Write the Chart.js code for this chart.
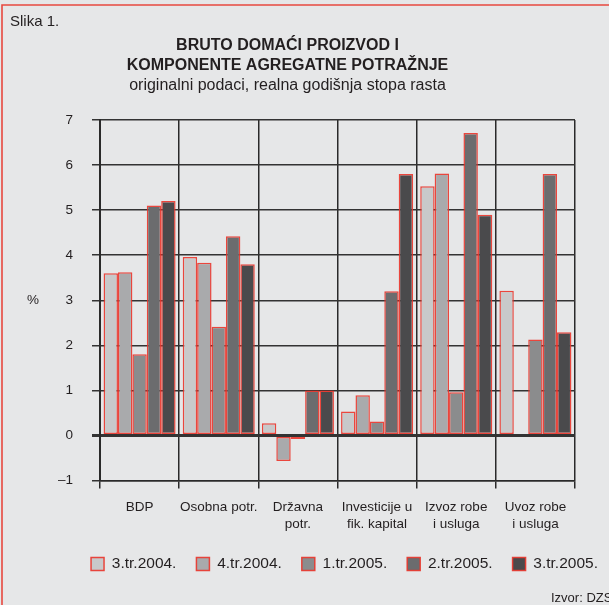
<!DOCTYPE html>
<html>
<head>
<meta charset="utf-8">
<script src="https://cdn.jsdelivr.net/npm/chart.js@4"></script>
<style>
  html, body { margin: 0; padding: 0; background: #e6e7e8; }
  #wrap { position: relative; width: 609px; height: 605px; overflow: hidden; }
  canvas { position: absolute; left: 0; top: 0; }
  .note { position: absolute; font-family: 'Liberation Sans', Arial, sans-serif; color: #231f20; white-space: nowrap; }
</style>
</head>
<body>
<div id="wrap">
  <canvas id="c" width="609" height="605"></canvas>
  <div class="note" style="left:10px; top:12px; font-size:15px; line-height:18px;">Slika 1.</div>
  <div class="note" style="left:551px; top:590px; font-size:13px; line-height:16px;">Izvor: DZS</div>
</div>
<script>
const categories = [
  'BDP',
  'Osobna potr.',
  ['Državna', 'potr.'],
  ['Investicije u', 'fik. kapital'],
  ['Izvoz robe', 'i usluga'],
  ['Uvoz robe', 'i usluga']
];
const seriesNames = ['3.tr.2004.', '4.tr.2004.', '1.tr.2005.', '2.tr.2005.', '3.tr.2005.'];
const q3_2004 = [3.60, 3.96, 0.27, 0.53, 5.53, 3.21];
const q4_2004 = [3.62, 3.83, -0.57, 0.89, 5.81, null];
const q1_2005 = [1.80, 2.41, -0.08, 0.31, 0.96, 2.13];
const q2_2005 = [5.10, 4.42, 1.00, 3.20, 6.71, 5.80];
const q3_2005 = [5.20, 3.80, 1.00, 5.80, 4.90, 2.29];
const yTicks = [-1, 0, 1, 2, 3, 4, 5, 6, 7];

const seriesValues = [q3_2004, q4_2004, q1_2005, q2_2005, q3_2005];
const fills = ['#c8c9ca', '#a9aaac', '#8b8c8d', '#6b6c6e', '#4a4a4c'];
const FONT = "'Liberation Sans', Arial, sans-serif";

const framePlugin = {
  id: 'frame',
  beforeDraw(chart) {
    const ctx = chart.ctx;
    ctx.save();
    ctx.fillStyle = '#e6e7e8';
    ctx.fillRect(0, 0, chart.width, chart.height);
    ctx.restore();
  },
  afterDraw(chart) {
    const ctx = chart.ctx;
    ctx.save();
    ctx.strokeStyle = '#e8493f';
    ctx.lineWidth = 1.6;
    ctx.beginPath();
    ctx.moveTo(2, chart.height + 2);
    ctx.lineTo(2, 5);
    ctx.lineTo(chart.width + 2, 5);
    ctx.stroke();
    const a = chart.chartArea;
    ctx.fillStyle = '#231f20';
    ctx.font = '13.5px ' + FONT;
    ctx.textAlign = 'center';
    ctx.textBaseline = 'middle';
    ctx.fillText('%', 33, (a.top + a.bottom) / 2);
    ctx.restore();
  },
  afterLayout(chart) {
    const lg = chart.legend;
    if (lg) { lg.left += 57; lg.right += 57; }
  }
};

new Chart(document.getElementById('c'), {
  type: 'bar',
  data: {
    labels: categories,
    datasets: seriesNames.map((name, i) => ({
      label: name,
      data: seriesValues[i],
      backgroundColor: fills[i],
      borderColor: 'rgba(234,52,42,0.9)',
      borderWidth: 1.5,
      borderSkipped: false,
      categoryPercentage: 0.91,
      barPercentage: 1.0
    }))
  },
  options: {
    responsive: false,
    animation: false,
    devicePixelRatio: 1,
    layout: { padding: { top: 26, left: 0, right: 34, bottom: 23.25 } },
    plugins: {
      title: {
        display: true,
        text: ['BRUTO DOMAĆI PROIZVOD I', 'KOMPONENTE AGREGATNE POTRAŽNJE'],
        color: '#231f20',
        font: { family: FONT, size: 16, weight: 'bold', lineHeight: 1.25 },
        padding: { top: 10, bottom: 0 }
      },
      subtitle: {
        display: true,
        text: 'originalni podaci, realna godišnja stopa rasta',
        color: '#231f20',
        font: { family: FONT, size: 16, weight: 'normal', lineHeight: 1.25 },
        padding: { top: 0, bottom: 24 }
      },
      legend: {
        display: true,
        position: 'bottom',
        labels: {
          color: '#231f20',
          font: { family: FONT, size: 15.5 },
          boxWidth: 13,
          boxHeight: 13,
          padding: 20
        }
      },
      tooltip: { enabled: false }
    },
    scales: {
      x: {
        offset: true,
        grid: { display: true, offset: true, color: '#2a2a2a', lineWidth: 1.5, tickLength: 8, drawOnChartArea: true },
        border: { display: true, color: '#2a2a2a', width: 1.5 },
        ticks: { color: '#231f20', font: { family: FONT, size: 13.5, lineHeight: 1.25 }, padding: 10, maxRotation: 0, autoSkip: false },
        afterFit(scale) { scale.height = 55.75; }
      },
      y: {
        min: -1,
        max: 7,
        afterBuildTicks(scale) { scale.ticks = yTicks.map(v => ({ value: v })); },
        grid: {
          color: '#333333',
          lineWidth: c => (c.tick && c.tick.value === 0 ? 3 : 1.5),
          tickLength: 8
        },
        border: { display: true, color: '#2a2a2a', width: 2 },
        ticks: {
          color: '#231f20',
          font: { family: FONT, size: 13.5 },
          padding: 19,
          callback: v => (v < 0 ? '\u2013' + Math.abs(v) : String(v))
        },
        afterFit(scale) { scale.width = 100; }
      }
    }
  },
  plugins: [framePlugin]
});
</script>
</body>
</html>
